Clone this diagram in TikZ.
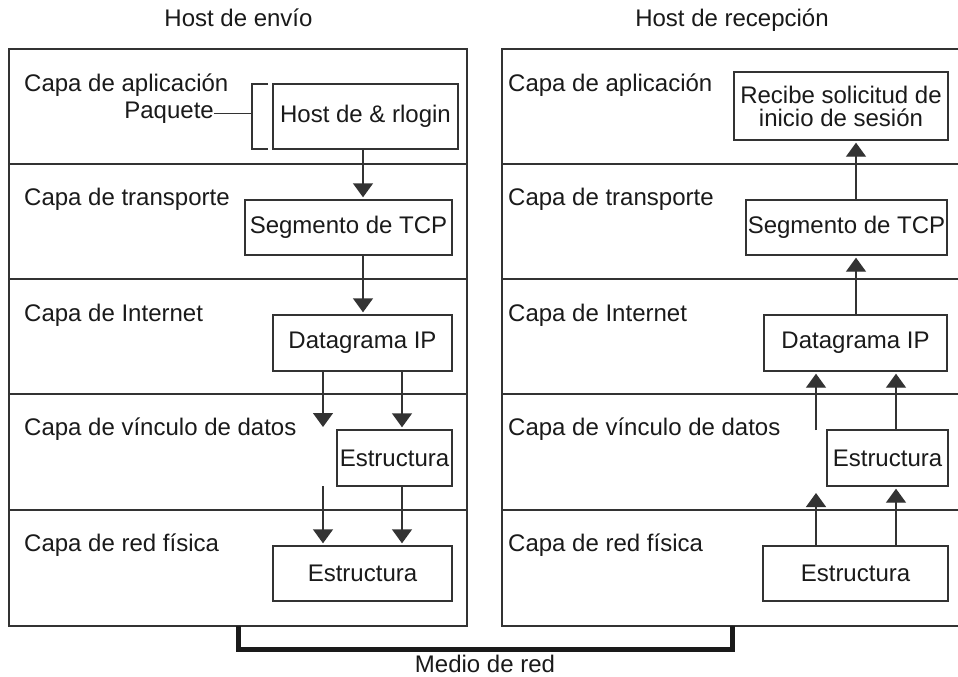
\documentclass[tikz,border=0pt]{standalone}
\usepackage{fontspec}
\setmainfont{Liberation Sans}
\usetikzlibrary{arrows.meta}
\definecolor{ln}{HTML}{333333}
\definecolor{tx}{HTML}{1A1A1A}
\begin{document}
\begin{tikzpicture}[x=1pt,y=-1pt,
  every node/.style={text=tx,font=\fontsize{24}{28}\selectfont},
  box/.style={draw=ln,line width=1.4pt,inner sep=0pt,align=center},
  lbl/.style={anchor=base west,inner sep=0pt},
  thin/.style={draw=ln,line width=1.4pt},
  arr/.style={thin,-{Triangle[width=20pt,length=14pt]},shorten >=2pt},
  medium/.style={draw=tx,line width=5pt},
]
\useasboundingbox (0,0) rectangle (958,677);
\fill[white] (0,0) rectangle (958,677);

% titles
\node[anchor=base,inner sep=0pt] (t1) at (238.5,27) {Host de envío};
\node[anchor=base,inner sep=0pt] (t2) at (732,27) {Host de recepción};

% outer frames and layer lines
\draw[thin] (9,49) rectangle (467,626);
\draw[thin] (965,49) -- (502,49) -- (502,626) -- (965,626);
\foreach \y in {164,279,394,510} {
  \draw[thin] (9,\y) -- (467,\y);
  \draw[thin] (502,\y) -- (965,\y);
}

% layer labels
\foreach \x/\s in {24/L,508/R} {
  \node[lbl] (ap\s) at (\x,91) {Capa de aplicación};
  \node[lbl] (tr\s) at (\x,205) {Capa de transporte};
  \node[lbl] (in\s) at (\x,321) {Capa de Internet};
  \node[lbl] (vd\s) at (\x,435) {Capa de vínculo de datos};
  \node[lbl] (rf\s) at (\x,551) {Capa de red física};
}

% sending host boxes
\node[box,minimum width=185pt,minimum height=65pt] (host) at (365.5,116.5) {Host de \& rlogin};
\node[box,minimum width=207pt,minimum height=55pt] (segL) at (348.5,227.5) {Segmento de TCP};
\node[box,minimum width=179pt,minimum height=56pt] (dgL) at (362.5,343) {Datagrama IP};
\node[box,minimum width=115pt,minimum height=56pt] (esL1) at (394.5,458) {Estructura};
\node[box,minimum width=179pt,minimum height=55pt] (esL2) at (362.5,573.5) {Estructura};

% Paquete bracket
\node[anchor=base east,inner sep=0pt] (paq) at (214,118) {Paquete};
\coordinate (bv) at (252,0);
\draw[thin] (268,84) -- (252,84) -- (252,149) -- (268,149);
\draw[thin] ([yshift=-1pt]paq.east) -- ([yshift=-1pt]paq.east -| bv);

% receiving host boxes
\node[box,minimum width=214pt,minimum height=68pt,font=\fontsize{24}{23}\selectfont] (rec) at (841,106) {Recibe solicitud de\\inicio de sesión};
\node[box,minimum width=201pt,minimum height=55pt] (segR) at (846.5,227.5) {Segmento de TCP};
\node[box,minimum width=183pt,minimum height=56pt] (dgR) at (855.5,343) {Datagrama IP};
\node[box,minimum width=121pt,minimum height=56pt] (esR1) at (887.5,458) {Estructura};
\node[box,minimum width=185pt,minimum height=55pt] (esR2) at (855.5,573.5) {Estructura};

% arrow columns
\coordinate (cA) at (363,0);
\coordinate (cB) at (323,0);
\coordinate (cC) at (402,0);
\coordinate (cD) at (856,0);
\coordinate (cE) at (816,0);
\coordinate (cF) at (896,0);
\coordinate (fL1) at (323,429);
\coordinate (fL2) at (323,486);
\coordinate (fR1) at (816,430);
\coordinate (fR2) at (816,491);

% sending arrows (down)
\draw[arr] (cA |- host.south) -- (cA |- segL.north);
\draw[arr] (cA |- segL.south) -- (cA |- dgL.north);
\draw[arr] (cB |- dgL.south) -- (fL1);
\draw[arr] (cC |- dgL.south) -- (cC |- esL1.north);
\draw[arr] (fL2) -- (cB |- esL2.north);
\draw[arr] (cC |- esL1.south) -- (cC |- esL2.north);

% receiving arrows (up)
\draw[arr] (cD |- segR.north) -- (cD |- rec.south);
\draw[arr] (cD |- dgR.north) -- (cD |- segR.south);
\draw[arr] (fR1) -- (cE |- dgR.south);
\draw[arr] (cF |- esR1.north) -- (cF |- dgR.south);
\draw[arr] (cE |- esR2.north) -- (fR2);
\draw[arr] (cF |- esR2.north) -- (cF |- esR1.south);

% network medium
\coordinate (m1) at (238,626);
\coordinate (m2) at (732,626);
\draw[medium] (m1) -- (238,649.5) -- (732,649.5) -- (m2);
\node[anchor=base,inner sep=0pt] (med) at (485,672) {Medio de red};
\end{tikzpicture}
\end{document}
